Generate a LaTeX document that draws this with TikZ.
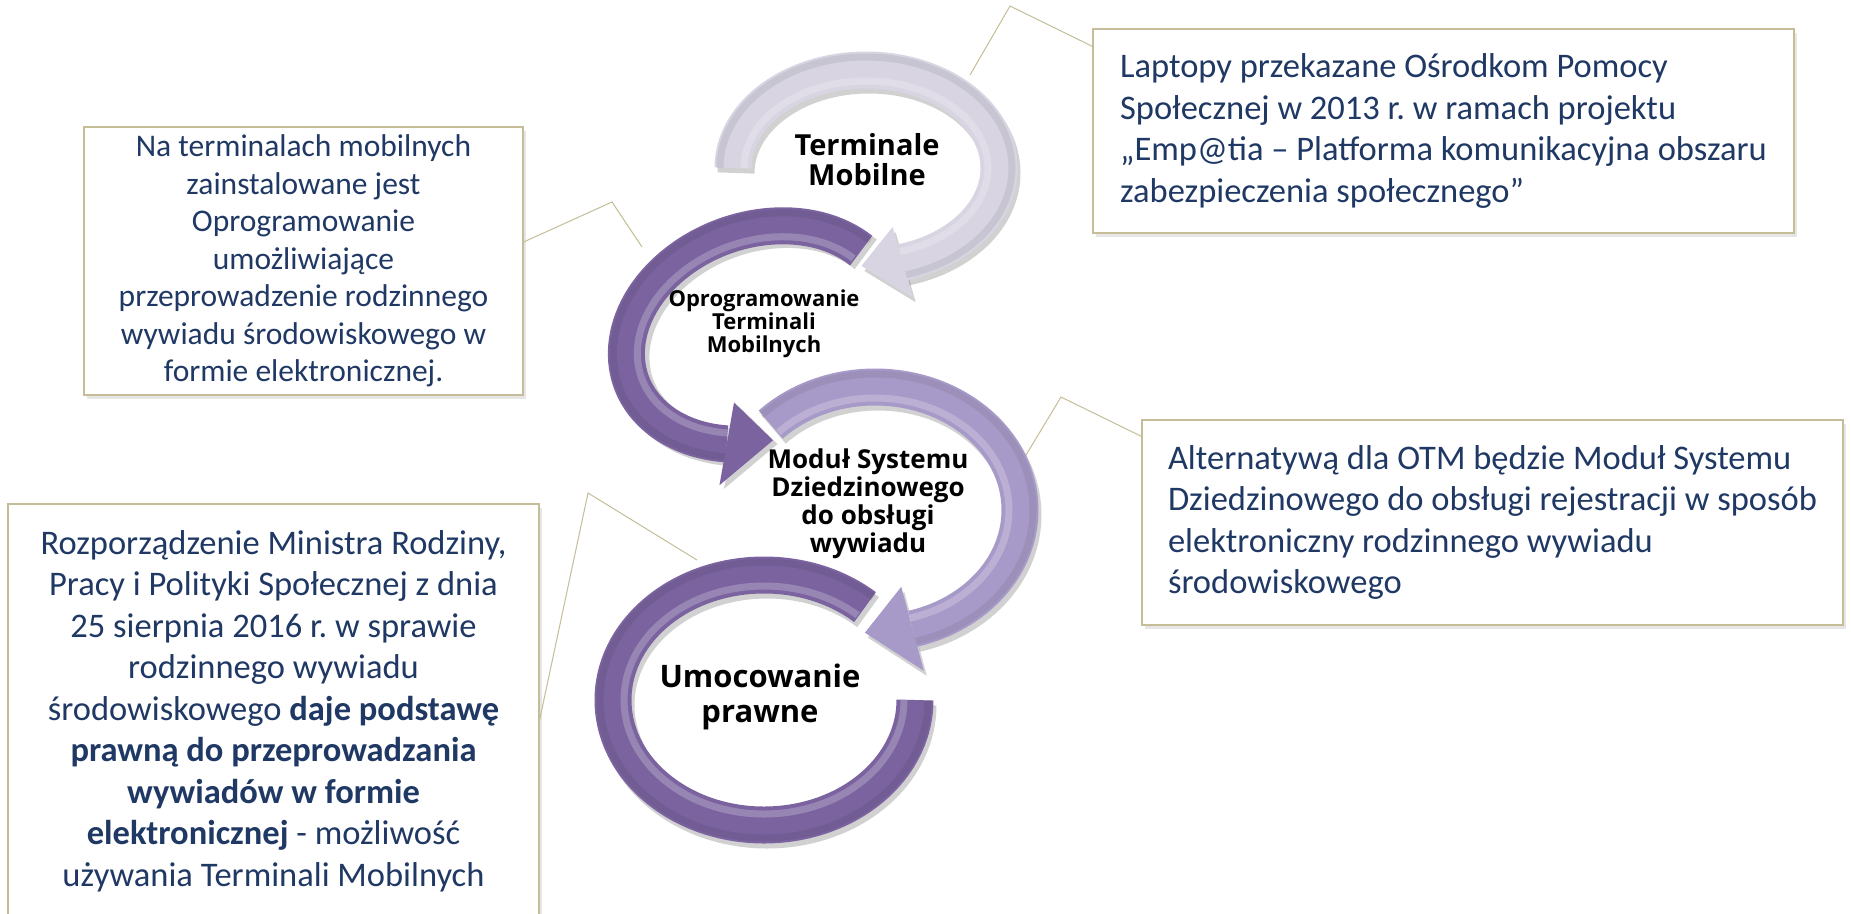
\documentclass[tikz,border=0pt]{standalone}
\usepackage{fontspec}
\setmainfont{Carlito}
\newfontfamily\ringfont{Open Sans}
\usetikzlibrary{shapes,shadows}
\frenchspacing

\definecolor{ringLight}{HTML}{D8D4E2}
\definecolor{ringDark}{HTML}{7B63A0}
\definecolor{ringMid}{HTML}{A89AC8}
\definecolor{noteLine}{HTML}{C4BD97}
\definecolor{noteText}{HTML}{1F3864}

\begin{document}
\begin{tikzpicture}[x=1pt, y=-1pt]

% Define styles
\tikzstyle{note} = [rectangle, draw=noteLine, line width=1.2pt, fill=white, text=noteText, drop shadow={opacity=0.2, shadow xshift=3pt, shadow yshift=-4pt}]
\tikzstyle{ringtext} = [align=center, text=black]
\tikzstyle{callout} = [draw=noteLine, line width=1pt]

\useasboundingbox (0,0) rectangle (1851,913);

% Notes
\node [note, font=\fontsize{31.5}{37.5}\selectfont, align=center, minimum width=439pt, minimum height=268pt] (noteOprog) at (303.5,261) {Na terminalach mobilnych\\ zainstalowane jest\\ Oprogramowanie\\ umożliwiające\\ przeprowadzenie rodzinnego\\ wywiadu środowiskowego w\\ formie elektronicznej.};
\node [note, font=\fontsize{34.5}{41.5}\selectfont, align=left, minimum width=701pt, minimum height=204pt] (noteLaptopy) at (1443.5,131) {Laptopy przekazane Ośrodkom Pomocy\\ Społecznej w 2013 r. w ramach projektu\\ „Emp@tia – Platforma komunikacyjna obszaru\\ zabezpieczenia społecznego”};
\node [note, font=\fontsize{34.5}{41.5}\selectfont, align=left, minimum width=701pt, minimum height=205pt] (noteModul) at (1492.5,522.5) {Alternatywą dla OTM będzie Moduł Systemu\\ Dziedzinowego do obsługi rejestracji w sposób\\ elektroniczny rodzinnego wywiadu\\ środowiskowego};
\node [note, font=\fontsize{34.5}{41.5}\selectfont, align=center, minimum width=531pt, minimum height=414pt] (notePrawo) at (273.5,711) {Rozporządzenie Ministra Rodziny,\\ Pracy i Polityki Społecznej z dnia\\ 25 sierpnia 2016 r. w sprawie\\ rodzinnego wywiadu\\ środowiskowego \textbf{daje podstawę}\\ \textbf{prawną do przeprowadzania}\\ \textbf{wywiadów w formie}\\ \textbf{elektronicznej} - możliwość\\ używania Terminali Mobilnych};

% Callouts
\coordinate (laptopyBend) at (1010,6);
\coordinate (laptopyEnd) at (970,75);
\coordinate (oprogBend) at (612,202);
\coordinate (oprogEnd) at (642,247);
\coordinate (modulBend) at (1061,397);
\coordinate (modulEnd) at (1020,465);
\coordinate (prawoBend) at (588,493);
\coordinate (prawoEnd) at (697,560);

\draw [callout] ([yshift=-18pt]noteLaptopy.north west) -- (laptopyBend) -- (laptopyEnd);
\draw [callout] ([yshift=19pt]noteOprog.east) -- (oprogBend) -- (oprogEnd);
\draw [callout] ([yshift=-17pt]noteModul.north west) -- (modulBend) -- (modulEnd);
\draw [callout] ([yshift=-9pt]notePrawo.east) -- (prawoBend) -- (prawoEnd);

% Circular arrows: centre, radii, tilt, start, end, tip, head, colour
\foreach \cx/\cy/\rx/\ry/\rot/\from/\to/\tip/\head/\col in {
  866/168/133/98/0/180/434/452/36.5/ringLight,
  760/335/137/105/20/-25.2/-240/-260/42/ringDark,
  875/510/145/123/0/-136/75/94/43.5/ringMid,
  764/700/151/125/0/-48/-360/-360/0/ringDark}
{
  \pgfmathsetmacro\rxo{\rx+\head}
  \pgfmathsetmacro\ryo{\ry+\head}
  \pgfmathsetmacro\rxi{\rx-\head}
  \pgfmathsetmacro\ryi{\ry-\head}
  \pgfmathsetmacro\rxl{\rx-11}
  \pgfmathsetmacro\ryl{\ry-11}
  \pgfmathsetmacro\rxd{\rx+13}
  \pgfmathsetmacro\ryd{\ry+13}
  \begin{scope}[shift={(\cx,\cy)}, rotate=\rot]
    \begin{scope}[xshift=3pt, yshift=-5pt, opacity=0.18]
      \draw [line width=37pt, color=black] (\from:{\rx} and {\ry}) arc[start angle=\from, end angle=\to, x radius=\rx, y radius=\ry];
      \fill [black] (\to:{\rxo} and {\ryo}) -- (\tip:{\rx} and {\ry}) -- (\to:{\rxi} and {\ryi}) -- cycle;
    \end{scope}
    \draw [line width=37pt, color=\col] (\from:{\rx} and {\ry}) arc[start angle=\from, end angle=\to, x radius=\rx, y radius=\ry];
    \fill [fill=\col] (\to:{\rxo} and {\ryo}) -- (\tip:{\rx} and {\ry}) -- (\to:{\rxi} and {\ryi}) -- cycle;
    \draw [line width=7pt, white, opacity=0.22] (\from:{\rxl} and {\ryl}) arc[start angle=\from, end angle=\to, x radius=\rxl, y radius=\ryl];
    \draw [line width=7pt, black, opacity=0.07] (\from:{\rxd} and {\ryd}) arc[start angle=\from, end angle=\to, x radius=\rxd, y radius=\ryd];
  \end{scope}
}

% Ring labels
\node [ringtext, font=\ringfont\bfseries\fontsize{29}{30}\selectfont] (terminale) at (867,160) {Terminale\\ Mobilne};
\node [ringtext, font=\ringfont\bfseries\fontsize{22}{23}\selectfont] (oprog) at (764,324) {Oprogramowanie\\ Terminali\\ Mobilnych};
\node [ringtext, font=\ringfont\bfseries\fontsize{26}{28}\selectfont] (modul) at (868,504) {Moduł Systemu\\ Dziedzinowego\\ do obsługi\\ wywiadu};
\node [ringtext, font=\ringfont\bfseries\fontsize{31}{35}\selectfont] (umocowanie) at (760,697) {Umocowanie\\ prawne};

\end{tikzpicture}
\end{document}
